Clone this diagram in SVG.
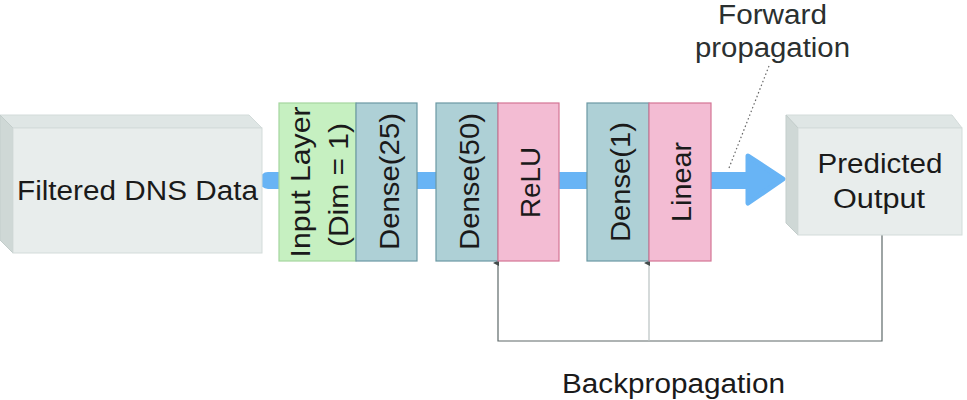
<svg xmlns="http://www.w3.org/2000/svg" width="967" height="400" viewBox="0 0 967 400">
<style>
.t{font-family:"Liberation Sans",Arial,sans-serif;font-size:27px;fill:#1a1a1a;}
.r{font-size:28px;}
.front{fill:#e8edec;stroke:#d3dbda;stroke-width:1;}
.top{fill:#dfe6e5;stroke:#d3dbda;stroke-width:1;}
.side{fill:#cfd8d6;stroke:#c3cdcb;stroke-width:1;}
.green{fill:#c6f0c1;stroke:#a5d69f;stroke-width:1.2;}
.dense{fill:#aed0d6;stroke:#6b98a3;stroke-width:1.2;}
.pink{fill:#f3bcd3;stroke:#d47595;stroke-width:1.2;}
.back{fill:none;stroke:#5e6969;stroke-width:1.2;}
</style>
<defs>
<marker id="ah" markerWidth="6" markerHeight="6" refX="3" refY="5" orient="auto-start-reverse" markerUnits="userSpaceOnUse" viewBox="0 0 6 6">
<path d="M0,6 L3,0 L6,6 Z" fill="#444c4c"/>
</marker>
</defs>
<g id="connectors">
<line x1="268" y1="180.5" x2="752" y2="180.5" stroke="#68b4f5" stroke-width="17" stroke-linecap="round"/>
<polygon points="748,156 783,179 748,203" fill="#68b4f5" stroke="#68b4f5" stroke-width="5" stroke-linejoin="round"/>
<polyline class="back" points="882,235 882,341 498,341 498,263" marker-end="url(#ah)"/>
<line x1="649" y1="341" x2="649" y2="263" stroke="#b9c2c2" stroke-width="1.2" marker-end="url(#ah)"/>
<line x1="769" y1="66" x2="729" y2="168" stroke="#666" stroke-width="1.2" stroke-dasharray="1.5,2.5"/>
</g>
<g id="filtered-dns">
<polygon class="top" points="0,115 249,115 262,128 13,128"/>
<polygon class="side" points="0,115 13,128 13,253 0,240"/>
<rect class="front" x="13" y="128" width="249" height="125"/>
<text class="t" x="137.5" y="200" text-anchor="middle" textLength="241" lengthAdjust="spacingAndGlyphs">Filtered DNS Data</text>
</g>
<g id="input-layer">
<rect class="green" x="279" y="103" width="77" height="158"/>
<text class="t r" transform="translate(310,182) rotate(-90)" text-anchor="middle" textLength="151" lengthAdjust="spacingAndGlyphs">Input Layer</text>
<text class="t r" transform="translate(348,185) rotate(-90)" text-anchor="middle" textLength="124" lengthAdjust="spacingAndGlyphs">(Dim = 1)</text>
</g>
<g id="dense25">
<rect class="dense" x="356" y="103" width="61" height="158"/>
<text class="t r" transform="translate(399,181.5) rotate(-90)" text-anchor="middle" textLength="137" lengthAdjust="spacingAndGlyphs">Dense(25)</text>
</g>
<g id="dense50">
<rect class="dense" x="436" y="103" width="62" height="158"/>
<text class="t r" transform="translate(479,181.5) rotate(-90)" text-anchor="middle" textLength="137" lengthAdjust="spacingAndGlyphs">Dense(50)</text>
</g>
<g id="relu">
<rect class="pink" x="498" y="103" width="61" height="158"/>
<text class="t r" transform="translate(540,182.5) rotate(-90)" text-anchor="middle" textLength="71" lengthAdjust="spacingAndGlyphs">ReLU</text>
</g>
<g id="dense1">
<rect class="dense" x="587" y="103" width="62" height="158"/>
<text class="t r" transform="translate(630,182) rotate(-90)" text-anchor="middle" textLength="120" lengthAdjust="spacingAndGlyphs">Dense(1)</text>
</g>
<g id="linear">
<rect class="pink" x="649" y="103" width="62" height="158"/>
<text class="t r" transform="translate(691,182) rotate(-90)" text-anchor="middle" textLength="80" lengthAdjust="spacingAndGlyphs">Linear</text>
</g>
<g id="predicted-output">
<polygon class="top" points="786,115 952,115 962,128 798,128"/>
<polygon class="side" points="786,115 798,128 798,235 786,223"/>
<rect class="front" x="798" y="128" width="164" height="107"/>
<text class="t" x="880" y="173" text-anchor="middle" textLength="125" lengthAdjust="spacingAndGlyphs">Predicted</text>
<text class="t" x="879" y="208" text-anchor="middle" textLength="92" lengthAdjust="spacingAndGlyphs">Output</text>
</g>
<g id="labels">
<text class="t" x="772.5" y="24" text-anchor="middle" textLength="109" lengthAdjust="spacingAndGlyphs" style="fill:#2b3030">Forward</text>
<text class="t" x="772.5" y="57" text-anchor="middle" textLength="155" lengthAdjust="spacingAndGlyphs" style="fill:#2b3030">propagation</text>
<text class="t" x="673.5" y="393" text-anchor="middle" textLength="223" lengthAdjust="spacingAndGlyphs">Backpropagation</text>
</g>
</svg>
